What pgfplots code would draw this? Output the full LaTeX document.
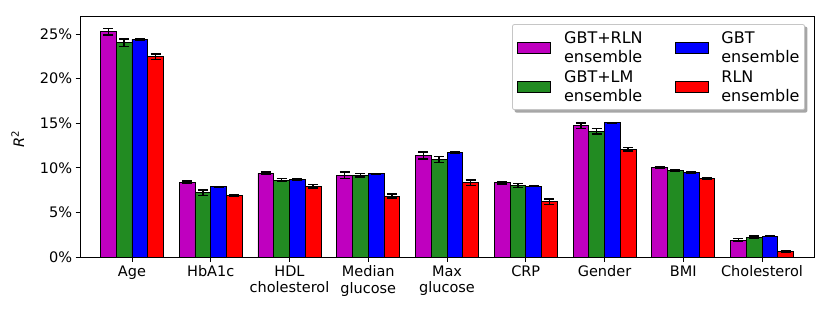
\documentclass[border=0pt]{standalone}
\usepackage{pgfplots}
\pgfplotsset{compat=1.18}
\usepackage{fontspec}
\setmainfont{DejaVu Sans}
\usetikzlibrary{backgrounds}
\definecolor{cmag}{rgb}{0.75,0,0.75}
\definecolor{cgreen}{HTML}{228B22}
\definecolor{cblue}{rgb}{0,0,1}
\definecolor{cred}{rgb}{1,0,0}
\pgfplotsset{
  mybar/.style={ybar, bar width=0.2, bar shift=0pt, fill=#1, draw=black, line width=0.7pt,
    error bars/.cd, y dir=both, y explicit,
    error bar style={black, line width=1.5pt},
    error mark options={rotate=90, mark size=5pt, line width=1.5pt, black},
    /pgfplots/.cd,
    legend image code/.code={\draw[sharp corners, fill=#1, draw=black, line width=0.7pt] (0pt,-5.5pt) rectangle (33pt,5.5pt);}
  }
}
\begin{document}
\begin{tikzpicture}
\path[use as bounding box] (0,0) rectangle (831pt,313pt);
\begin{axis}[
  at={(80.7pt,56pt)}, anchor=south west,
  scale only axis, width=733.3pt, height=240.7pt,
  xmin=-0.651, xmax=8.66, ymin=0, ymax=27,
  xtick={0,1,2,3,4,5,6,7,8},
  xticklabels={Age,HbA1c,{HDL\\cholesterol},{Median\\glucose},{Max\\glucose},CRP,Gender,BMI,Cholesterol},
  xticklabel style={align=center, font=\fontsize{14.5}{16.5}\selectfont},
  ytick={0,5,10,15,20,25},
  yticklabels={0\%,5\%,10\%,15\%,20\%,25\%},
  yticklabel style={font=\fontsize{14.5}{17}\selectfont},
  tick pos=left, tick align=outside, major tick length=5pt,
  tick style={black, line width=0.8pt},
  axis line style={line width=0.8pt},
  every axis y label/.style={at={(rel axis cs:0,0.49)}, xshift=-63pt, rotate=90, anchor=center},
  ylabel={\fontsize{14.5}{17}\selectfont\textit{R}\textsuperscript{2}},
  legend columns=2, transpose legend,
  legend cell align=left,
  legend style={name=leg, at={(rel axis cs:0.9877,0.9676)}, anchor=north east,
    nodes={align=left, inner xsep=0pt, inner ysep=0pt, font=\fontsize{16}{18.7}\selectfont},
    rounded corners=2pt, draw=gray!45, fill=white, line width=0.8pt,
    column sep=13pt, row sep=7pt, inner xsep=5pt, inner ysep=7pt,
    /tikz/every even column/.append style={column sep=32pt}},
]
\addplot[mybar=cmag] coordinates {
 (-0.3,25.26) +- (0,0.37)
 (0.7,8.41) +- (0,0.1)
 (1.7,9.38) +- (0,0.15)
 (2.7,9.16) +- (0,0.35)
 (3.7,11.40) +- (0,0.4)
 (4.7,8.33) +- (0,0.15)
 (5.7,14.72) +- (0,0.3)
 (6.7,10.01) +- (0,0.1)
 (7.7,1.90) +- (0,0.15)
};
\addlegendentry{GBT+RLN\\ensemble}
\addplot[mybar=cgreen] coordinates {
 (-0.1,24.03) +- (0,0.4)
 (0.9,7.21) +- (0,0.3)
 (1.9,8.63) +- (0,0.15)
 (2.9,9.16) +- (0,0.2)
 (3.9,10.95) +- (0,0.35)
 (4.9,8.02) +- (0,0.2)
 (5.9,14.09) +- (0,0.3)
 (6.9,9.71) +- (0,0.12)
 (7.9,2.24) +- (0,0.1)
};
\addlegendentry{GBT+LM\\ensemble}
\addplot[mybar=cblue] coordinates {
 (0.1,24.40) +- (0,0.08)
 (1.1,7.88) +- (0,0.05)
 (2.1,8.71) +- (0,0.05)
 (3.1,9.34) +- (0,0.05)
 (4.1,11.74) +- (0,0.05)
 (5.1,7.96) +- (0,0.05)
 (6.1,15.06) +- (0,0.05)
 (7.1,9.49) +- (0,0.05)
 (8.1,2.35) +- (0,0.05)
};
\addlegendentry{GBT\\ensemble}
\addplot[mybar=cred] coordinates {
 (0.3,22.46) +- (0,0.3)
 (1.3,6.91) +- (0,0.08)
 (2.3,7.96) +- (0,0.2)
 (3.3,6.84) +- (0,0.25)
 (4.3,8.33) +- (0,0.3)
 (5.3,6.20) +- (0,0.3)
 (6.3,12.07) +- (0,0.2)
 (7.3,8.78) +- (0,0.08)
 (8.3,0.60) +- (0,0.05)
};
\addlegendentry{RLN\\ensemble}
\end{axis}
\begin{pgfonlayer}{background}
\fill[gray!70, rounded corners=2pt] ([xshift=2.5pt,yshift=-2.5pt]leg.south west) rectangle ([xshift=2.5pt,yshift=-2.5pt]leg.north east);
\end{pgfonlayer}
\end{tikzpicture}
\end{document}
